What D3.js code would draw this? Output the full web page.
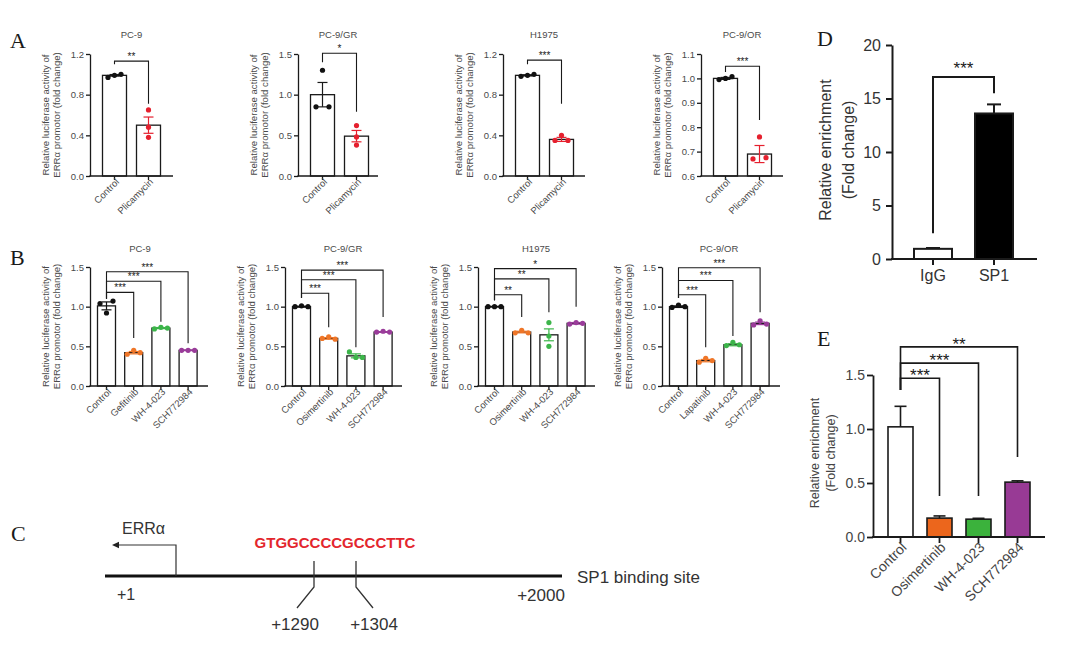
<!DOCTYPE html>
<html><head><meta charset="utf-8">
<script src="https://cdn.jsdelivr.net/npm/d3@7"></script>
<style>body{margin:0;background:#fff}svg{display:block}</style>
</head><body><svg id="c" width="1080" height="647"></svg>
<script>
// ---------------- DATA ----------------
// Panel A : luciferase, Control vs Plicamycin
const aTitles = ["PC-9", "PC-9/GR", "H1975", "PC-9/OR"];
const aGroups = ["Control", "Plicamycin"];
const aMeans = [[0.99, 0.50], [1.00, 0.49], [0.99, 0.36], [1.00, 0.69]];
const aSems = [[0.008, 0.08], [0.15, 0.07], [0.006, 0.02], [0.004, 0.035]];
const aReps = [
  [[0.97, 0.99, 1.00], [0.65, 0.48, 0.38]],
  [[1.30, 0.85, 0.85], [0.62, 0.48, 0.38]],
  [[0.98, 0.99, 1.00], [0.35, 0.40, 0.35]],
  [[0.995, 1.0, 1.007], [0.67, 0.76, 0.675]]
];
const aDomains = [[0, 1.2], [0, 1.5], [0, 1.2], [0.6, 1.1]];
const aTicks = [[0, 0.4, 0.8, 1.2], [0, 0.5, 1.0, 1.5], [0, 0.4, 0.8, 1.2], [0.6, 0.7, 0.8, 0.9, 1.0, 1.1]];
const aSig = [["**"], ["*"], ["***"], ["***"]];
const aBracketLevels = [[1.13], [1.51], [1.14], [1.05]];
const aBracketLeftEnds = [1.10, 1.40, 1.10, 1.026];
const aBracketRightEnds = [[0.71], [0.79], [0.71], [0.83]];

// Panel B : luciferase, inhibitors
const bTitles = ["PC-9", "PC-9/GR", "H1975", "PC-9/OR"];
const bGroups = [
  ["Control", "Gefitinib", "WH-4-023", "SCH772984"],
  ["Control", "Osimertinib", "WH-4-023", "SCH772984"],
  ["Control", "Osimertinib", "WH-4-023", "SCH772984"],
  ["Control", "Lapatinib", "WH-4-023", "SCH772984"]
];
const bMeans = [[1.01, 0.42, 0.73, 0.45], [1.00, 0.60, 0.38, 0.68], [1.00, 0.68, 0.645, 0.79], [1.00, 0.32, 0.52, 0.79]];
const bSems = [[0.05, 0.015, 0.007, 0.004], [0.006, 0.01, 0.025, 0.005], [0.004, 0.01, 0.075, 0.01], [0.01, 0.015, 0.013, 0.016]];
const bReps = [
  [[1.04, 1.07, 0.92], [0.40, 0.45, 0.42], [0.72, 0.74, 0.73], [0.45, 0.45, 0.45]],
  [[1.00, 1.01, 1.00], [0.60, 0.62, 0.59], [0.43, 0.36, 0.36], [0.68, 0.69, 0.68]],
  [[1.00, 1.00, 1.00], [0.67, 0.70, 0.67], [0.80, 0.63, 0.50], [0.78, 0.80, 0.79]],
  [[0.99, 1.02, 1.00], [0.30, 0.35, 0.32], [0.51, 0.55, 0.52], [0.77, 0.82, 0.78]]
];
const bDomain = [0, 1.5];
const bTicks = [0, 0.5, 1.0, 1.5];
const bSig = [["***", "***", "***"], ["***", "***", "***"], ["**", "**", "*"], ["***", "***", "***"]];
const bBracketLevels = [[1.18, 1.32, 1.44], [1.17, 1.34, 1.46], [1.15, 1.35, 1.48], [1.15, 1.33, 1.49]];
const bBracketLeftEnds = [1.10, 1.11, 1.08, 1.11];
const bBracketRightEnds = [[0.605, 0.81, 0.54], [0.74, 0.49, 0.87], [0.87, 0.93, 1.0], [0.49, 0.63, 0.93]];

// Panel D : ChIP enrichment
const dGroups = ["IgG", "SP1"];
const dMeans = [0.95, 13.6];
const dSems = [0.08, 0.85];
const dTicks = [0, 5, 10, 15, 20];
const dSig = ["***"];
const dBracketLevels = [17.0];
const dBracketLeftEnd = 2.4;
const dBracketRightEnds = [15.5];

// Panel E : ChIP enrichment, inhibitors
const eGroups = ["Control", "Osimertinib", "WH-4-023", "SCH772984"];
const eMeans = [1.02, 0.175, 0.165, 0.508];
const eSems = [0.19, 0.02, 0.008, 0.012];
const eTicks = [0, 0.5, 1.0, 1.5];
const eSig = ["***", "***", "**"];
const eBracketLevels = [1.47, 1.61, 1.76];
const eBracketLeftEnd = 1.36;
const eBracketRightEnds = [0.38, 0.38, 0.74];

// Panel C : promoter schematic labels
const cGeneLabel = "ERRα";
const cSequence = "GTGGCCCCGCCCTTC";
const cSiteLabels = ["+1290", "+1304"];
const cEndLabels = ["+1", "+2000"];
const cCaption = "SP1 binding site";

// ---------------- DRAWING ----------------
const SANS = "'Liberation Sans', Arial, Helvetica, sans-serif";
const SERIF = "'Liberation Serif', 'Times New Roman', serif";
const svg = d3.select("#c");
svg.append("rect").attr("width", 1080).attr("height", 647).attr("fill", "#fff");

const aPointColors = ["#111111", "#e5202e"];
const bPointColors = ["#111111", "#ef7628", "#3cb54a", "#9a3c9a"];
const eFills = ["#ffffff", "#ec661c", "#3bb23c", "#983a95"];
const dFills = ["#ffffff", "#000000"];

function band(cats, firstCenter, step, width) {
  const pi = 1 - width / step;
  const r0 = firstCenter - step / 2;
  return d3.scaleBand().domain(cats).range([r0, r0 + cats.length * step])
    .paddingInner(pi).paddingOuter(pi / 2);
}

function jitter(vals, y, r) {
  const ys = vals.map(v => y(v));
  const offs = vals.map(() => 0);
  const used = new Set();
  vals.forEach((v, i) => {
    if (used.has(i)) return;
    const cl = [i];
    vals.forEach((w, j) => {
      if (j !== i && !used.has(j) && Math.abs(ys[i] - ys[j]) < 2 * r + 1) cl.push(j);
    });
    cl.forEach(k => used.add(k));
    cl.sort((a, b) => a - b);
    const n = cl.length;
    cl.forEach((k, m) => offs[k] = (m - (n - 1) / 2) * (n === 2 ? 13 : 6.5));
  });
  return offs;
}

function drawChart(o) {
  const g = svg.append("g");
  const y = d3.scaleLinear().domain(o.domain).range([o.y0, o.y1]);
  const x = band(o.groups, o.axisX + o.firstOff, o.step, o.barW);
  const base = o.domain[0];

  g.selectAll("rect.bar").data(o.groups).join("rect").attr("class", "bar")
    .attr("x", d => x(d)).attr("width", x.bandwidth())
    .attr("y", (d, i) => y(o.means[i]))
    .attr("height", (d, i) => y(base) - y(o.means[i]))
    .attr("fill", (d, i) => o.fills[i])
    .attr("stroke", "#1a1a1a").attr("stroke-width", o.barStroke);

  o.groups.forEach((gname, i) => {
    const cx = x(gname) + x.bandwidth() / 2;
    const m = o.means[i], s = o.sems[i];
    const top = y(m + s), bot = o.errBoth ? y(m - s) : y(m);
    const col = o.errColor ? o.errColor(i) : "#1a1a1a";
    g.append("line").attr("x1", cx).attr("x2", cx).attr("y1", top).attr("y2", bot)
      .attr("stroke", col).attr("stroke-width", o.errW);
    g.append("line").attr("x1", cx - o.cap / 2).attr("x2", cx + o.cap / 2).attr("y1", top).attr("y2", top)
      .attr("stroke", col).attr("stroke-width", o.errW);
    if (o.errBoth) {
      g.append("line").attr("x1", cx - o.cap / 2).attr("x2", cx + o.cap / 2).attr("y1", bot).attr("y2", bot)
        .attr("stroke", col).attr("stroke-width", o.errW);
    }
  });

  if (o.reps) {
    o.groups.forEach((gname, i) => {
      const cx = x(gname) + x.bandwidth() / 2;
      const offs = jitter(o.reps[i], y, o.r);
      g.selectAll(null).data(o.reps[i]).join("circle")
        .attr("cx", (d, k) => cx + offs[k]).attr("cy", d => y(d)).attr("r", o.r)
        .attr("fill", o.pointColors[i]);
    });
  }

  const ya = g.append("g").attr("transform", `translate(${o.axisX},0)`)
    .call(d3.axisLeft(y).tickValues(o.ticks).tickFormat(d3.format(o.fmt))
      .tickSize(o.tick).tickSizeOuter(0).tickPadding(o.tickPad));
  ya.select(".domain").attr("stroke", "#1a1a1a").attr("stroke-width", o.axisW);
  ya.selectAll(".tick line").attr("stroke", "#1a1a1a").attr("stroke-width", o.axisW);
  ya.selectAll("text").attr("font-family", SANS).attr("font-size", o.tickFs).attr("fill", o.textColor);

  const xa = g.append("g").attr("transform", `translate(0,${o.y0})`)
    .call(d3.axisBottom(x).tickSize(o.tick).tickSizeOuter(0).tickPadding(o.xPad));
  xa.select(".domain").remove();
  xa.selectAll(".tick line").attr("stroke", "#1a1a1a").attr("stroke-width", o.axisW);
  xa.selectAll("text").attr("font-family", SANS).attr("font-size", o.xFs).attr("fill", o.textColor);
  if (o.rotate) {
    xa.selectAll("text").attr("text-anchor", "end").attr("x", o.rx).attr("y", o.ry)
      .attr("dy", "0.35em").attr("transform", "rotate(-45)");
  }
  g.append("line").attr("x1", o.axisX - o.axisW / 2).attr("x2", o.xEnd)
    .attr("y1", o.y0).attr("y2", o.y0).attr("stroke", "#1a1a1a").attr("stroke-width", o.axisW);

  const c0 = x(o.groups[0]) + x.bandwidth() / 2;
  o.sig.forEach((lab, k) => {
    const ck = x(o.groups[k + 1]) + x.bandwidth() / 2;
    const ly = y(o.levels[k]);
    g.append("path")
      .attr("d", `M${c0},${y(o.leftEnd)}V${ly}H${ck}V${y(o.rightEnds[k])}`)
      .attr("fill", "none").attr("stroke", "#1a1a1a").attr("stroke-width", o.brW);
    g.append("text").attr("x", (c0 + ck) / 2).attr("y", ly + o.sigDy)
      .attr("text-anchor", "middle").attr("font-family", SANS).attr("font-size", o.sigFs)
      .attr("fill", "#1a1a1a").text(lab);
  });

  if (o.title) {
    g.append("text").attr("x", o.titleX).attr("y", o.titleY).attr("text-anchor", "middle")
      .attr("font-family", SANS).attr("font-size", o.titleFs).attr("fill", o.textColor).text(o.title);
  }
  const yc = o.yLabelY !== undefined ? o.yLabelY : (o.y0 + o.y1) / 2;
  o.yLabel.forEach((line, k) => {
    const lx = o.axisX + o.yLabelOff[k];
    g.append("text").attr("transform", `translate(${lx},${yc}) rotate(-90)`)
      .attr("text-anchor", "middle").attr("dy", "0.35em")
      .attr("font-family", SANS).attr("font-size", o.yLabelFs).attr("fill", o.textColor).text(line);
  });
}

const lucLabel = ["Relative luciferase activity of", "ERRα promotor (fold change)"];
const smallStyle = {
  tick: 4, tickPad: 2, xPad: 2, tickFs: 9.5, xFs: 9.5, axisW: 1.3, barStroke: 1.3, errW: 1.2,
  cap: 10, r: 2.6, errBoth: true, rotate: true, rx: -1, ry: 5, brW: 1.1, sigFs: 10, sigDy: -1,
  textColor: "#4a4a4a", titleFs: 9.5, yLabelFs: 9.6, yLabelOff: [-44, -33], fmt: ".1f"
};

// Panel A
const aAxisX = [90, 298, 503, 701];
const aXEnd = [173, 378, 585, 783];
aTitles.forEach((t, i) => {
  drawChart(Object.assign({}, smallStyle, {
    axisX: aAxisX[i], xEnd: aXEnd[i], y0: 176, y1: 54, firstOff: 24.5, step: 34, barW: 24,
    domain: aDomains[i], ticks: aTicks[i], groups: aGroups, means: aMeans[i], sems: aSems[i],
    reps: aReps[i], fills: ["#fff", "#fff"], pointColors: aPointColors,
    errColor: k => k === 0 ? "#1a1a1a" : aPointColors[1],
    sig: aSig[i], levels: aBracketLevels[i], leftEnd: aBracketLeftEnds[i], rightEnds: aBracketRightEnds[i],
    title: t, titleX: (aAxisX[i] + aXEnd[i]) / 2, titleY: 38, yLabel: lucLabel
  }));
});

// Panel B
const bAxisX = [90, 285, 478, 662];
const bXEnd = [208, 402, 595, 780];
const bTitleX = [140, 343, 536, 719];
bTitles.forEach((t, i) => {
  drawChart(Object.assign({}, smallStyle, {
    axisX: bAxisX[i], xEnd: bXEnd[i], y0: 386, y1: 267, firstOff: 16.5, step: 27.2, barW: 18,
    domain: bDomain, ticks: bTicks, groups: bGroups[i], means: bMeans[i], sems: bSems[i],
    reps: bReps[i], fills: ["#fff", "#fff", "#fff", "#fff"], pointColors: bPointColors,
    errColor: k => bPointColors[k],
    sig: bSig[i], levels: bBracketLevels[i], leftEnd: bBracketLeftEnds[i], rightEnds: bBracketRightEnds[i],
    title: t, titleX: bTitleX[i], titleY: 252, yLabel: lucLabel
  }));
});

// Panel D
drawChart({
  axisX: 892, xEnd: 1037, y0: 259, y1: 45, firstOff: 41, step: 61, barW: 38,
  domain: [0, 20], ticks: dTicks, fmt: "d", groups: dGroups, means: dMeans, sems: dSems,
  fills: dFills, tick: 6, tickPad: 5, xPad: 5, tickFs: 16, xFs: 16, axisW: 2, barStroke: 2,
  errW: 2, cap: 14, errBoth: false, rotate: false, brW: 2, sigFs: 17, sigDy: -3,
  sig: dSig, levels: dBracketLevels, leftEnd: dBracketLeftEnd, rightEnds: dBracketRightEnds,
  textColor: "#333", yLabel: ["Relative enrichment", "(Fold change)"], yLabelFs: 16,
  yLabelOff: [-67, -44], yLabelY: 150
});

// Panel E
drawChart({
  axisX: 873, xEnd: 1045, y0: 537, y1: 375, firstOff: 27.5, step: 39, barW: 25,
  domain: [0, 1.5], ticks: eTicks, fmt: ".1f", groups: eGroups, means: eMeans, sems: eSems,
  fills: eFills, tick: 6, tickPad: 2, xPad: 3, tickFs: 14, xFs: 14, axisW: 1.8, barStroke: 1.6,
  errW: 1.6, cap: 12, errBoth: false, rotate: true, rx: -3, ry: 8, brW: 1.6, sigFs: 17, sigDy: 3,
  sig: eSig, levels: eBracketLevels, leftEnd: eBracketLeftEnd, rightEnds: eBracketRightEnds,
  textColor: "#444", yLabel: ["Relative enrichment", "(Fold change)"], yLabelFs: 12.5,
  yLabelOff: [-58, -42], yLabelY: 453
});

// Panel C : promoter schematic
(function () {
  const g = svg.append("g");
  const pos = d3.scaleLinear().domain([1, 2000]).range([105, 562]);
  const lineY = 576;
  g.append("line").attr("x1", pos(1)).attr("x2", pos(2000)).attr("y1", lineY).attr("y2", lineY)
    .attr("stroke", "#111").attr("stroke-width", 3);
  const tssX = 176, arrY = 545;
  g.append("path").attr("d", `M${tssX},${lineY}V${arrY}H${118}`).attr("fill", "none")
    .attr("stroke", "#333").attr("stroke-width", 1.2);
  g.append("path").attr("d", `M${112},${arrY}L${119},${arrY - 3.2}L${119},${arrY + 3.2}Z`).attr("fill", "#222");
  g.append("text").attr("x", 122).attr("y", 534).attr("font-family", SANS).attr("font-size", 16)
    .attr("fill", "#333").text(cGeneLabel);
  g.append("text").attr("x", 335).attr("y", 548).attr("text-anchor", "middle").attr("font-family", SANS)
    .attr("font-size", 15).attr("font-weight", "bold").attr("fill", "#e3262d").text(cSequence);
  const sites = [{x: 314, lx: 297, tx: 295}, {x: 356, lx: 373, tx: 374}];
  sites.forEach((s, i) => {
    g.append("path").attr("d", `M${s.x},561V587L${s.lx},608`).attr("fill", "none")
      .attr("stroke", "#333").attr("stroke-width", 1.3);
    g.append("text").attr("x", s.tx).attr("y", 630).attr("text-anchor", "middle").attr("font-family", SANS)
      .attr("font-size", 17).attr("fill", "#333").text(cSiteLabels[i]);
  });
  g.append("text").attr("x", 117).attr("y", 600).attr("font-family", SANS).attr("font-size", 16)
    .attr("fill", "#333").text(cEndLabels[0]);
  g.append("text").attr("x", 541).attr("y", 601).attr("text-anchor", "middle").attr("font-family", SANS)
    .attr("font-size", 17).attr("fill", "#333").text(cEndLabels[1]);
  g.append("text").attr("x", 577).attr("y", 583).attr("font-family", SANS).attr("font-size", 17)
    .attr("fill", "#333").text(cCaption);
})();

[["A", 10, 48], ["B", 10, 265], ["C", 11, 541], ["D", 817, 46], ["E", 817, 346]].forEach(([t, px, py]) => {
  svg.append("text").attr("x", px).attr("y", py).attr("font-family", SERIF).attr("font-size", 22)
    .attr("fill", "#1a1a1a").text(t);
});
</script></body></html>
